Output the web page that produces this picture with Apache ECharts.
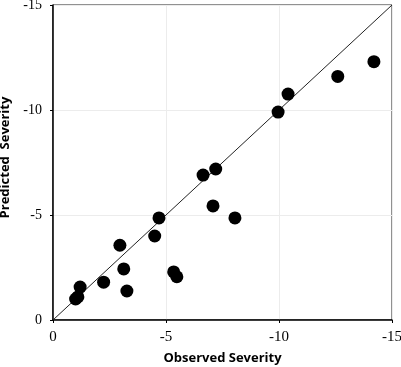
<!DOCTYPE html>
<html>
<head>
<meta charset="utf-8">
<script src="https://cdn.jsdelivr.net/npm/echarts@6/dist/echarts.min.js"></script>
<style>
  html, body { margin: 0; padding: 0; background: #fff; }
  #chart { width: 401px; height: 367px; }
</style>
</head>
<body>
<div id="chart"></div>
<script>
// observed vs predicted severity
var observed  = [-1.0, -1.1, -1.2, -2.24, -2.96, -3.13, -3.27, -4.5, -4.69, -5.34, -5.48, -6.64, -7.2, -7.08, -8.05, -9.96, -10.4, -12.6, -14.2];
var predicted = [-1.0, -1.1, -1.57, -1.8, -3.56, -2.43, -1.38, -4.0, -4.86, -2.29, -2.06, -6.9, -7.19, -5.43, -4.86, -9.9, -10.76, -11.6, -12.3];
var tickVals = [0, -5, -10, -15];

var points = [];
for (var i = 0; i < observed.length; i++) {
  points.push([observed[i], predicted[i]]);
}

var myChart = echarts.init(document.getElementById('chart'));

var tickFont = { color: '#000', fontFamily: '"Liberation Serif", "DejaVu Serif", serif', fontSize: 15 };

var option = {
  animation: false,
  grid: { left: 53, right: 9, top: 5, bottom: 47, show: true, borderColor: '#222', borderWidth: 1,
          containLabel: false, outerBoundsMode: 'none' },
  xAxis: {
    type: 'value', min: -15, max: 0, interval: 5, inverse: true,
    name: 'Observed Severity', nameLocation: 'middle', nameGap: 32,
    nameTextStyle: { fontFamily: 'Open Sans', fontWeight: 'bold', fontSize: 13, color: '#000' },
    axisLine: { show: true, lineStyle: { color: '#000', width: 1.5 } },
    axisTick: { show: true, length: 3, lineStyle: { color: '#000' } },
    axisLabel: Object.assign({ margin: 10 }, tickFont),
    splitLine: { show: true, lineStyle: { color: '#ececec', width: 1 } }
  },
  yAxis: {
    type: 'value', min: -15, max: 0, interval: 5, inverse: true,
    name: 'Predicted  Severity', nameLocation: 'middle', nameGap: 41,
    nameTextStyle: { fontFamily: 'Open Sans', fontWeight: 'bold', fontSize: 13, color: '#000', padding: [0, 0, 0, 10] },
    axisLine: { show: true, lineStyle: { color: '#000', width: 1.5 } },
    axisTick: { show: true, length: 3, lineStyle: { color: '#000' } },
    axisLabel: Object.assign({}, tickFont, { margin: 11, fontSize: 14 }),
    splitLine: { show: true, lineStyle: { color: '#ececec', width: 1 } }
  },
  series: [
    {
      type: 'line',
      data: [[tickVals[0], tickVals[0]], [tickVals[3], tickVals[3]]],
      symbol: 'none',
      lineStyle: { color: '#222', width: 1 },
      z: 1
    },
    {
      type: 'scatter',
      data: points,
      symbolSize: 13,
      itemStyle: { color: '#000', opacity: 1 },
      z: 3
    }
  ]
};
myChart.setOption(option);
</script>
</body>
</html>
